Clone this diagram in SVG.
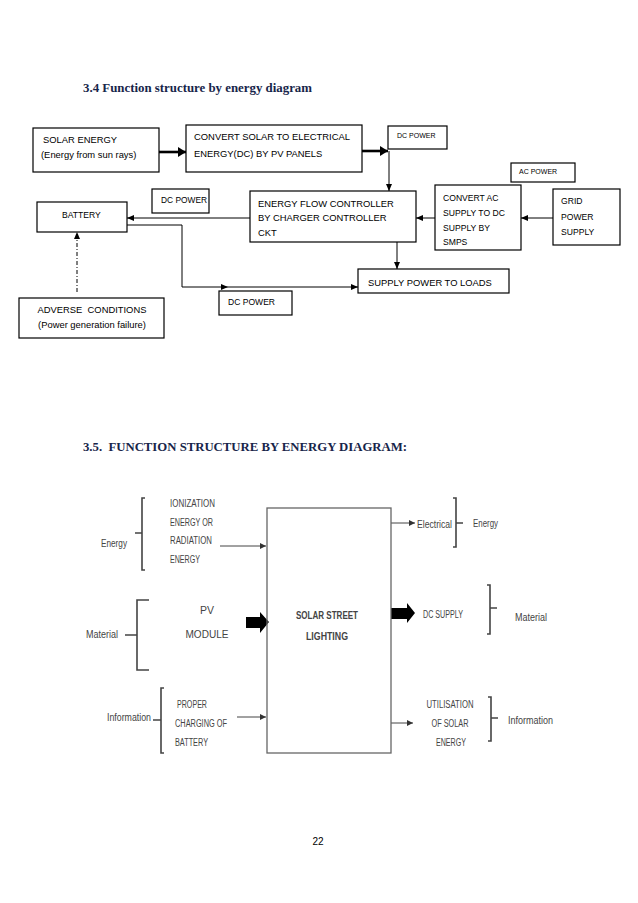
<svg xmlns="http://www.w3.org/2000/svg" width="638" height="903" viewBox="0 0 638 903">
<style>
.bx{fill:#fff;stroke:#000;stroke-width:1.2}
.t{font-family:"Liberation Sans",Arial,sans-serif;font-size:9.4px;fill:#000}
.ts{font-family:"Liberation Sans",Arial,sans-serif;font-size:8.6px;fill:#000}
.tx{font-family:"Liberation Sans",Arial,sans-serif;font-size:7px;fill:#000}
.ttl{font-family:"Liberation Serif","Times New Roman",serif;font-size:12px;font-weight:bold;fill:#17254a}
.ln{fill:none;stroke:#000;stroke-width:1}
.lnk{fill:none;stroke:#000;stroke-width:2.6}
.g{font-family:"Liberation Sans",Arial,sans-serif;font-size:10px;fill:#444}
.gb{fill:none;stroke:#666;stroke-width:1.3}
.br{fill:none;stroke:#444;stroke-width:1.6}
.gl{fill:none;stroke:#444;stroke-width:1}
</style>
<defs>
<marker id="ah" markerWidth="8" markerHeight="8" refX="7" refY="4" orient="auto" markerUnits="userSpaceOnUse"><path d="M0,1 L7,4 L0,7 z" fill="#000"/></marker>
<marker id="ahk" markerWidth="10" markerHeight="10" refX="8" refY="5" orient="auto" markerUnits="userSpaceOnUse"><path d="M0,0 L8,5 L0,10 z" fill="#000"/></marker>
<marker id="ahg" markerWidth="8" markerHeight="8" refX="6" refY="4" orient="auto" markerUnits="userSpaceOnUse"><path d="M0,1 L6,4 L0,7 z" fill="#333"/></marker>
</defs>
<rect width="638" height="903" fill="#fff"/>

<text class="ttl" x="83" y="92" textLength="229" lengthAdjust="spacingAndGlyphs">3.4 Function structure by energy diagram</text>
<text class="ttl" x="83" y="451" textLength="324" lengthAdjust="spacingAndGlyphs" xml:space="preserve">3.5.  FUNCTION STRUCTURE BY ENERGY DIAGRAM:</text>

<g id="connectors-top">
<line class="lnk" x1="159" y1="152" x2="186" y2="152" marker-end="url(#ahk)"/>
<line class="lnk" x1="362" y1="151" x2="388" y2="151" marker-end="url(#ahk)"/>
<line class="ln" x1="389" y1="151" x2="389" y2="191" marker-end="url(#ah)"/>
<line class="ln" x1="250" y1="218" x2="127" y2="218" marker-end="url(#ah)"/>
<path class="ln" d="M127,225 H182 V287 H228" marker-end="url(#ah)"/>
<line class="ln" x1="228" y1="287" x2="358" y2="287" marker-end="url(#ah)"/>
<line class="ln" x1="553" y1="218" x2="521" y2="218" marker-end="url(#ah)"/>
<line class="ln" x1="435" y1="218" x2="416" y2="218" marker-end="url(#ah)"/>
<line class="ln" x1="397" y1="242" x2="397" y2="269" marker-end="url(#ah)"/>
<line class="ln" x1="77" y1="292" x2="77" y2="232" stroke-dasharray="4,2,1,2" marker-end="url(#ah)"/>
</g>

<g id="solar-energy"><rect class="bx" x="33" y="128" width="126" height="44"/>
<text class="t" x="43" y="143">SOLAR ENERGY</text>
<text class="t" x="41" y="158">(Energy from sun rays)</text></g>

<g id="convert-solar"><rect class="bx" x="186" y="125" width="176" height="47"/>
<text class="t" x="194" y="140" textLength="156" lengthAdjust="spacingAndGlyphs">CONVERT SOLAR TO ELECTRICAL</text>
<text class="t" x="194" y="157">ENERGY(DC) BY PV PANELS</text></g>

<g id="dc-power-1"><rect class="bx" x="388" y="126" width="59" height="23"/>
<text class="tx" x="397" y="138">DC POWER</text></g>

<g id="ac-power"><rect class="bx" x="511" y="163" width="64" height="19"/>
<text class="tx" x="519" y="174">AC POWER</text></g>

<g id="dc-power-2"><rect class="bx" x="152" y="189" width="57" height="24"/>
<text class="ts" x="161" y="203" textLength="46" lengthAdjust="spacingAndGlyphs">DC POWER</text></g>

<g id="battery"><rect class="bx" x="37" y="202" width="90" height="30"/>
<text class="ts" x="62" y="218">BATTERY</text></g>

<g id="energy-flow"><rect class="bx" x="250" y="191" width="166" height="51"/>
<text class="t" x="258" y="207">ENERGY FLOW CONTROLLER</text>
<text class="t" x="258" y="221">BY CHARGER CONTROLLER</text>
<text class="t" x="258" y="236">CKT</text></g>

<g id="convert-ac"><rect class="bx" x="435" y="185" width="86" height="65"/>
<text class="ts" x="443" y="201">CONVERT AC</text>
<text class="ts" x="443" y="216">SUPPLY TO DC</text>
<text class="ts" x="443" y="231">SUPPLY BY</text>
<text class="ts" x="443" y="245">SMPS</text></g>

<g id="grid"><rect class="bx" x="553" y="189" width="67" height="56"/>
<text class="ts" x="561" y="204">GRID</text>
<text class="ts" x="561" y="220">POWER</text>
<text class="ts" x="561" y="235">SUPPLY</text></g>

<g id="supply-loads"><rect class="bx" x="358" y="269" width="151" height="24"/>
<text class="t" x="368" y="286">SUPPLY POWER TO LOADS</text></g>

<g id="dc-power-3"><rect class="bx" x="219" y="291" width="73" height="24"/>
<text class="ts" x="228" y="305" textLength="47" lengthAdjust="spacingAndGlyphs">DC POWER</text></g>

<g id="adverse"><rect class="bx" x="19" y="298" width="145" height="40"/>
<text class="t" x="92" y="313" text-anchor="middle" xml:space="preserve">ADVERSE  CONDITIONS</text>
<text class="t" x="92" y="328" text-anchor="middle">(Power generation failure)</text></g>

<g id="connectors-bottom">
<line class="gl" x1="220" y1="546" x2="266" y2="546" marker-end="url(#ahg)"/>
<polygon points="246,617 260,617 260,612 269,622 260,633 260,628 246,628" fill="#000"/>
<line class="gl" x1="237" y1="717" x2="266" y2="717" marker-end="url(#ahg)"/>
<line class="gl" x1="391" y1="523" x2="415" y2="523" marker-end="url(#ahg)"/>
<polygon points="391,608 407,608 407,603 415,613 407,623 407,619 391,619" fill="#000"/>
<line class="gl" x1="391" y1="723" x2="413" y2="723" marker-end="url(#ahg)"/>
</g>

<g id="solar-street-lighting"><rect class="gb" x="267" y="508" width="124" height="245"/>
<text class="g" x="327" y="619" text-anchor="middle" font-weight="bold" fill="#333" textLength="62" lengthAdjust="spacingAndGlyphs">SOLAR STREET</text>
<text class="g" x="327" y="640" text-anchor="middle" font-weight="bold" fill="#333" textLength="42" lengthAdjust="spacingAndGlyphs">LIGHTING</text></g>

<g id="in-energy">
<text class="g" x="101" y="547" textLength="26" lengthAdjust="spacingAndGlyphs">Energy</text>
<path class="br" d="M145,498 H142 V570 H145 M135,533 H142"/>
<text class="g" x="170" y="507" textLength="45" lengthAdjust="spacingAndGlyphs">IONIZATION</text>
<text class="g" x="170" y="526" textLength="43" lengthAdjust="spacingAndGlyphs">ENERGY OR</text>
<text class="g" x="170" y="544" textLength="42" lengthAdjust="spacingAndGlyphs">RADIATION</text>
<text class="g" x="170" y="563" textLength="30" lengthAdjust="spacingAndGlyphs">ENERGY</text>
</g>

<g id="in-material">
<text class="g" x="86" y="638" textLength="32" lengthAdjust="spacingAndGlyphs">Material</text>
<path class="br" d="M149,600 H137 V670 H149 M125,635 H137"/>
<text class="g" x="207" y="614" text-anchor="middle" font-size="14" textLength="14" lengthAdjust="spacingAndGlyphs">PV</text>
<text class="g" x="207" y="638" text-anchor="middle" font-size="14" textLength="43" lengthAdjust="spacingAndGlyphs">MODULE</text>
</g>

<g id="in-information">
<text class="g" x="107" y="721" textLength="44" lengthAdjust="spacingAndGlyphs">Information</text>
<path class="br" d="M164,688 H161 V753 H164 M153,720 H161"/>
<text class="g" x="177" y="708" textLength="30" lengthAdjust="spacingAndGlyphs">PROPER</text>
<text class="g" x="175" y="727" textLength="52" lengthAdjust="spacingAndGlyphs">CHARGING OF</text>
<text class="g" x="175" y="746" textLength="33" lengthAdjust="spacingAndGlyphs">BATTERY</text>
</g>

<g id="out-energy">
<text class="g" x="417" y="528" textLength="35" lengthAdjust="spacingAndGlyphs">Electrical</text>
<path class="br" d="M453,498 H456 V547 H453 M456,523 H463"/>
<text class="g" x="473" y="527" textLength="25" lengthAdjust="spacingAndGlyphs">Energy</text>
</g>

<g id="out-material">
<text class="g" x="423" y="618" textLength="40" lengthAdjust="spacingAndGlyphs">DC SUPPLY</text>
<path class="br" d="M487,585 H490 V634 H487 M490,608 H497"/>
<text class="g" x="515" y="621" textLength="32" lengthAdjust="spacingAndGlyphs">Material</text>
</g>

<g id="out-information">
<text class="g" x="450" y="708" text-anchor="middle" textLength="47" lengthAdjust="spacingAndGlyphs">UTILISATION</text>
<text class="g" x="450" y="727" text-anchor="middle" textLength="37" lengthAdjust="spacingAndGlyphs">OF SOLAR</text>
<text class="g" x="451" y="746" text-anchor="middle" textLength="30" lengthAdjust="spacingAndGlyphs">ENERGY</text>
<path class="br" d="M488,697 H491 V741 H488 M491,718 H498"/>
<text class="g" x="508" y="724" textLength="45" lengthAdjust="spacingAndGlyphs">Information</text>
</g>

<text x="318" y="845" text-anchor="middle" font-family="'Liberation Sans',Arial,sans-serif" font-size="10" fill="#000">22</text>
</svg>
